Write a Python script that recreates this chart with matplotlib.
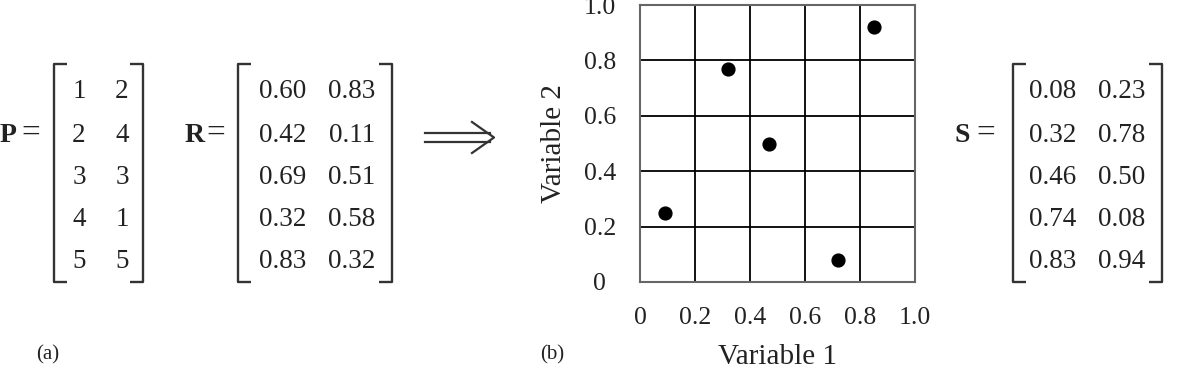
import matplotlib
matplotlib.use("Agg")
import matplotlib.pyplot as plt

# ---- data ----
P = [[1, 2], [2, 4], [3, 3], [4, 1], [5, 5]]
R = [["0.60", "0.83"], ["0.42", "0.11"], ["0.69", "0.51"], ["0.32", "0.58"], ["0.83", "0.32"]]
S = [["0.08", "0.23"], ["0.32", "0.78"], ["0.46", "0.50"], ["0.74", "0.08"], ["0.83", "0.94"]]
var1 = [0.09, 0.32, 0.47, 0.72, 0.85]
var2 = [0.25, 0.77, 0.50, 0.08, 0.92]
ticks = [0, 0.2, 0.4, 0.6, 0.8, 1.0]
tick_labels = ["0", "0.2", "0.4", "0.6", "0.8", "1.0"]

W, H = 1180, 376
plt.rcParams['font.family'] = ['Liberation Serif', 'DejaVu Serif']
fig = plt.figure(figsize=(W / 100, H / 100), dpi=100)

# overlay axes in pixel coordinates
ov = fig.add_axes([0, 0, 1, 1])
ov.set_xlim(0, W)
ov.set_ylim(H, 0)
ov.axis('off')

FS = 19.5
TXT = '#222222'
row_y = [92, 135, 177, 220, 261]


def bracket(x0, x1, top, bot, arm=13):
    kw = dict(color='#333333', lw=1.7, solid_capstyle='butt')
    ov.plot([x0 + arm, x0, x0, x0 + arm], [top, top, bot, bot], **kw)
    ov.plot([x1 - arm, x1, x1, x1 - arm], [top, top, bot, bot], **kw)


def matrix(name, name_x, vals, lx, rx, cx):
    ov.text(name_x, 136, name, fontsize=20, fontweight='bold', ha='left', va='center', color=TXT)
    ov.text(name_x + 21, 134, "=", fontsize=24, ha='left', va='center', color=TXT)
    bracket(lx, rx, 64, 282)
    for r, row in enumerate(vals):
        for c, v in enumerate(row):
            ov.text(cx[c], row_y[r], str(v), fontsize=FS, ha='center', va='center', color=TXT)


matrix("P", 0, P, 54, 143, [79, 122])
matrix("R", 185, R, 238, 392, [283, 352])
matrix("S", 955, S, 1013, 1162, [1053, 1122])

# double arrow
akw = dict(color='#333333', lw=1.6)
ov.plot([425, 490], [133, 133], **akw)
ov.plot([425, 490], [142, 142], **akw)
ov.plot([472, 494, 472], [122, 137.5, 153], **akw)

ov.text(48, 355, "(a)", fontsize=15, ha='center', va='center', color=TXT)
ov.text(552, 355, "(b)", fontsize=15, ha='center', va='center', color=TXT)

# scatter axes
ax = fig.add_axes([640 / W, (H - 282) / H, 275 / W, 277 / H])
ax.set_xlim(0, 1)
ax.set_ylim(0, 1)
ax.set_xticks(ticks)
ax.set_yticks(ticks)
ax.set_xticklabels(tick_labels, fontsize=18.5, color=TXT)
ax.set_yticklabels(tick_labels, fontsize=18.5, color=TXT, ha='center')
ax.tick_params(length=0)
ax.tick_params(axis='x', pad=18)
ax.tick_params(axis='y', pad=29)
ax.grid(True, color='black', lw=1.3)
for s in ax.spines.values():
    s.set_color('#666666')
    s.set_linewidth(1.5)
ax.scatter(var1, var2, s=85, color='black', zorder=3, clip_on=False)
ax.set_xlabel("Variable 1", fontsize=21, labelpad=11, color=TXT)
ax.set_ylabel("Variable 2", fontsize=21, labelpad=12, color=TXT)

fig.savefig("out.png", dpi=100)
